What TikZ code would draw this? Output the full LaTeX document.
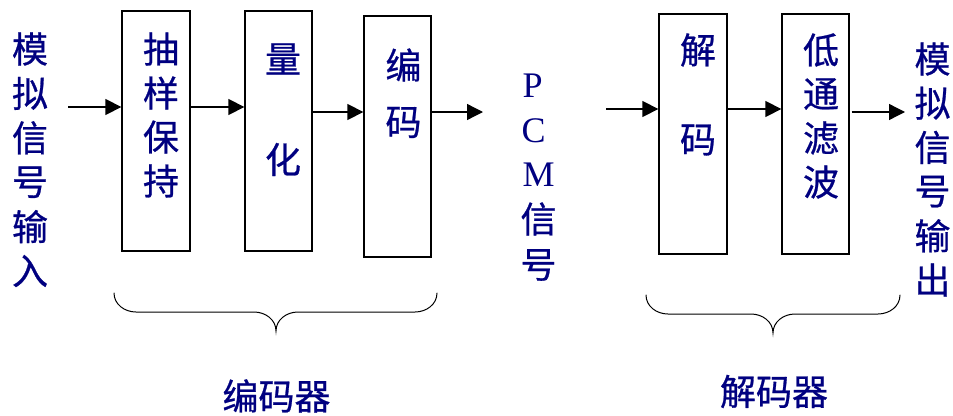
\documentclass[tikz,border=0pt]{standalone}
\usepackage{fontspec}
\setmainfont{Liberation Serif}
\newfontfamily\cjk[FakeBold=0.7]{Noto Sans CJK SC}
\usetikzlibrary{arrows.meta}
\definecolor{txtblue}{RGB}{0,0,128}
\begin{document}
\begin{tikzpicture}[x=1pt,y=-1pt,
  box/.style={draw, line width=1.3pt, inner sep=0pt},
  lab/.style={text=txtblue, font=\cjk\fontsize{36}{44}\selectfont, inner sep=0pt},
  latin/.style={text=txtblue, font=\fontsize{36}{44}\selectfont, inner sep=0pt, anchor=base west},
  arr/.style={line width=1.3pt, -{Triangle[length=16pt,width=16pt]}},
  bracepath/.style={line width=1pt, line cap=round}]
\useasboundingbox (0,0) rectangle (953,415);
% boxes
\node[box, minimum width=68pt, minimum height=240pt] (b1) at (156,131) {};
\node[box, minimum width=67pt, minimum height=240pt] (b2) at (278.5,131) {};
\node[box, minimum width=67pt, minimum height=241pt] (b3) at (397.5,136.5) {};
\node[box, minimum width=68pt, minimum height=240pt] (b4) at (693,134) {};
\node[box, minimum width=67pt, minimum height=240pt] (b5) at (815.5,134) {};
% texts
\foreach \c [count=\i] in {模,拟,信,号,输,入}
  \node[lab] (in\i) at (30,{49+(\i-1)*44.4}) {\c};
\foreach \c [count=\i] in {模,拟,信,号,输,出}
  \node[lab] (out\i) at (932.5,{59+(\i-1)*44.2}) {\c};
\foreach \c [count=\i] in {抽,样,保,持}
  \node[lab] (t1\i) at (161,{49+(\i-1)*44}) {\c};
\node[lab] (t21) at (283,59) {量};
\node[lab] (t22) at (283,159.5) {化};
\node[lab] (t31) at (403.5,65) {编};
\node[lab] (t32) at (403.5,122.5) {码};
\node[lab] (t41) at (698,50) {解};
\node[lab] (t42) at (698,140) {码};
\foreach \c [count=\i] in {低,通,滤,波}
  \node[lab] (t5\i) at (821,{50+(\i-1)*44}) {\c};
% PCM
\node[latin] (pP) at (522.5,97) {P};
\node[latin] (pC) at (521.5,142) {C};
\node[latin] (pM) at (522.5,186) {M};
\node[lab] (pX) at (538.5,219) {信};
\node[lab] (pH) at (538.5,265) {号};
% arrows
\coordinate (s0) at (68,107);
\draw[arr] (s0) -- (s0 -| b1.west);
\draw[arr] (b1.east |- s0) -- (s0 -| b2.west);
\coordinate (s1) at (0,112);
\draw[arr] (b2.east |- s1) -- (s1 -| b3.west);
\coordinate (e1) at (483,112);
\draw[arr] (b3.east |- e1) -- (e1);
\coordinate (s2) at (606,109);
\draw[arr] (s2) -- (s2 -| b4.west);
\draw[arr] (b4.east |- s2) -- (s2 -| b5.west);
\coordinate (e2) at (905,112);
\draw[arr] ([xshift=2pt]b5.east |- e2) -- (e2);
% braces
\draw[bracepath] (114,293) to[out=-90,in=180] (136,312) -- (254,312)
  to[out=0,in=90] (276,331) to[out=90,in=180] (298,312) -- (415,312)
  to[out=0,in=-90] (437,293);
\draw[bracepath] (646,295) to[out=-90,in=180] (668,314) -- (751,314)
  to[out=0,in=90] (773,333) to[out=90,in=180] (795,314) -- (878,314)
  to[out=0,in=-90] (900,295);
\node[lab] (enc) at (276.5,396) {编码器};
\node[lab] (dec) at (774,391.5) {解码器};
\end{tikzpicture}
\end{document}
